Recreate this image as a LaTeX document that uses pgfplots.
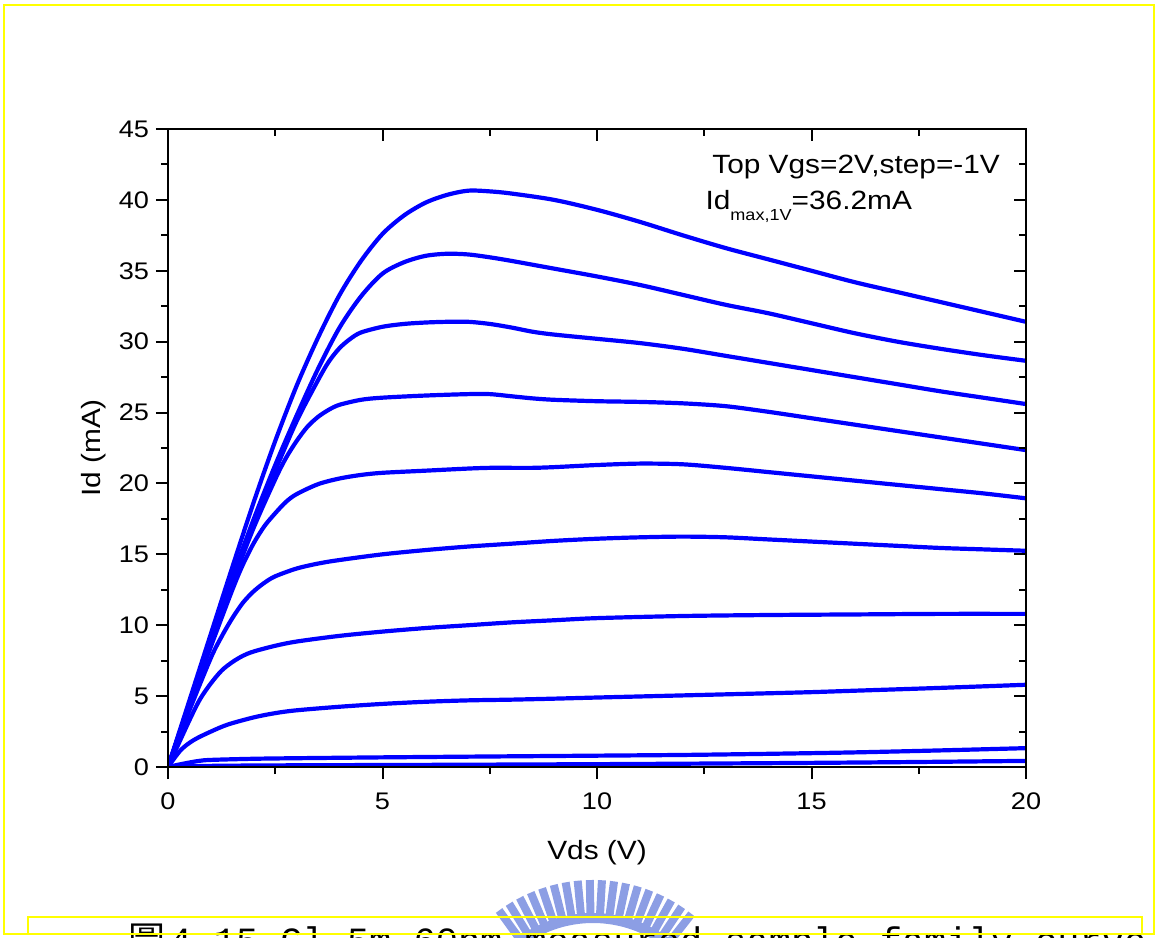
\documentclass[border=0pt]{standalone}
\usepackage{fontspec}
\setmainfont{Liberation Sans}[FakeStretch=1.13]
\newfontfamily\cjk{Noto Sans CJK TC}
\newfontfamily\capmono{Liberation Mono}
\usepackage{pgfplots}
\pgfplotsset{compat=1.18}
\definecolor{frameyellow}{RGB}{255,255,0}
\definecolor{curveblue}{RGB}{0,0,255}
\definecolor{crest}{RGB}{140,158,228}

\pgfplotsset{
  devframe/.style={
    scale only axis, width=429pt, height=319pt,
    at={(84pt,85pt)}, anchor=south west,
    xmin=0, xmax=20, ymin=0, ymax=45,
    xtick={0,5,...,20}, ytick={0,5,...,45},
    minor x tick num=1, minor y tick num=1,
    major tick length=6pt, minor tick length=3.5pt,
    every tick/.style={black, line width=1pt},
    axis line style={black, line width=1.1pt},
    tick label style={font=\fontsize{12}{12}\selectfont},
    /pgf/number format/assume math mode=true,
  },
  iv/.style={curveblue, solid, line width=2.1pt, mark=none, smooth, tension=0.5},
}

\begin{document}
\begin{tikzpicture}
\useasboundingbox (0,0) rectangle (577.5pt,468.5pt);
\begin{scope}
\clip (0,0) rectangle (577.5pt,468.5pt);

% crest watermark behind the caption
\begin{scope}[shift={(296.5pt,-51.5pt)}]
  \draw[crest, line width=5pt] (52:61pt) arc (52:126:61pt);
  \foreach \a in {52,56.35,...,126.5}
    \draw[crest, line width=4pt] (\a:63pt) -- (\a:80pt);
  \draw[crest, opacity=0.55, line width=7pt] (55:47pt) arc (55:123:47pt);
\end{scope}

% caption line (cut by the page edge)
\node[anchor=base west, inner sep=0] at (64pt,-8pt)
  {\fontsize{18.5}{18.5}\selectfont{\cjk 圖}\hspace{2pt}\capmono 4.15 Gl.5m 60nm measured sample family curve};

% page frames
\draw[frameyellow, line width=1.3pt] (2pt,1.5pt) rectangle (577pt,466pt);
\draw[frameyellow, line width=0.9pt] (13.85pt,1.5pt) rectangle (570.85pt,10.15pt);
\end{scope}

\begin{axis}[devframe,
  xtick pos=left, ytick pos=left, tick align=outside,
  xticklabel style={yshift=-3.5pt},
  xlabel={Vds (V)}, ylabel={Id (mA)},
  label style={font=\fontsize{13.2}{13.2}\selectfont},
  xlabel style={at={(axis description cs:0.5,0)}, anchor=base, yshift=-46pt},
  ylabel style={at={(axis description cs:-0.0781,0.5)}, anchor=base},
]
% Vgs = 2 V
\addplot[iv] coordinates {(0,0)(0.5,4.7)(1,9.4)(1.5,14.1)(2,18.7)(2.5,23.0)(3,26.9)(3.5,30.3)(4,33.3)(4.5,35.7)(5,37.6)(5.5,38.9)(6,39.8)(6.5,40.35)(7,40.65)(7.5,40.6)(8,40.45)(9,40.0)(10,39.3)(11,38.45)(12,37.5)(13,36.6)(14,35.8)(15,35.0)(16,34.2)(17,33.5)(18,32.8)(19,32.1)(20,31.4)};
% Vgs = 1 V
\addplot[iv] coordinates {(0,0)(0.5,4.5)(1,9.0)(1.5,13.4)(2,17.5)(2.5,21.3)(3,24.8)(3.5,28.1)(4,31.0)(4.5,33.2)(5,34.8)(5.5,35.6)(6,36.05)(6.5,36.2)(7,36.15)(7.5,35.95)(8,35.7)(9,35.15)(10,34.6)(11,34.0)(12,33.3)(13,32.6)(14,32.0)(15,31.3)(16,30.6)(17,30.0)(18,29.5)(19,29.05)(20,28.65)};
% Vgs = 0 V
\addplot[iv] coordinates {(0,0)(0.5,4.5)(1,8.9)(1.5,13.2)(2,17.2)(2.5,20.9)(3,24.4)(3.5,27.3)(3.75,28.6)(4,29.55)(4.25,30.2)(4.5,30.65)(5,31.05)(5.5,31.25)(6,31.35)(6.5,31.4)(7,31.4)(7.5,31.25)(8,31.0)(8.5,30.7)(9,30.5)(10,30.2)(11,29.9)(12,29.5)(13,29.0)(14,28.5)(15,28.0)(16,27.5)(17,27.0)(18,26.5)(19,26.05)(20,25.6)};
% Vgs = -1 V
\addplot[iv] coordinates {(0,0)(0.5,4.4)(1,8.8)(1.5,13.0)(2,16.9)(2.5,20.3)(2.75,21.8)(3,23.0)(3.25,24.0)(3.5,24.7)(3.75,25.2)(4,25.55)(4.5,25.9)(5,26.05)(6,26.2)(7,26.3)(7.5,26.3)(8,26.15)(8.5,26.0)(9,25.9)(10,25.8)(11,25.75)(12,25.65)(13,25.45)(14,25.05)(15,24.6)(16,24.15)(17,23.7)(18,23.25)(19,22.8)(20,22.35)};
% Vgs = -2 V
\addplot[iv] coordinates {(0,0)(0.5,4.3)(1,8.5)(1.5,12.5)(1.75,14.3)(2,15.8)(2.25,17.0)(2.5,17.9)(2.75,18.7)(3,19.25)(3.5,19.95)(4,20.35)(4.5,20.6)(5,20.75)(6,20.9)(7,21.05)(7.5,21.1)(8,21.1)(8.5,21.1)(9,21.15)(10,21.3)(11,21.4)(12,21.35)(13,21.1)(14,20.8)(15,20.5)(16,20.2)(17,19.9)(18,19.6)(19,19.3)(20,18.95)};
% Vgs = -3 V
\addplot[iv] coordinates {(0,0)(0.5,4.0)(1,7.7)(1.25,9.2)(1.5,10.5)(1.75,11.6)(2,12.4)(2.25,13.0)(2.5,13.45)(3,14.0)(3.5,14.35)(4,14.6)(5,15.0)(6,15.3)(7,15.55)(8,15.75)(9,15.95)(10,16.1)(11,16.2)(12,16.25)(13,16.2)(14,16.05)(15,15.9)(16,15.75)(17,15.6)(18,15.45)(19,15.35)(20,15.25)};
% Vgs = -4 V
\addplot[iv] coordinates {(0,0)(0.5,3.3)(0.75,4.8)(1,5.9)(1.25,6.8)(1.5,7.4)(1.75,7.85)(2,8.15)(2.5,8.55)(3,8.85)(4,9.25)(5,9.55)(6,9.8)(7,10.0)(8,10.2)(9,10.35)(10,10.5)(12,10.65)(14,10.72)(16,10.76)(18,10.8)(20,10.8)};
% Vgs = -5 V
\addplot[iv] coordinates {(0,0)(0.3,1.2)(0.6,1.9)(1,2.5)(1.4,3.0)(2,3.5)(2.5,3.8)(3,4.0)(4,4.25)(5,4.45)(6,4.6)(7,4.7)(8,4.75)(9,4.82)(10,4.9)(12,5.05)(14,5.2)(15,5.28)(16,5.38)(18,5.58)(20,5.8)};
% Vgs = -6 V
\addplot[iv] coordinates {(0,0)(0.3,0.2)(0.7,0.42)(1,0.5)(2,0.58)(3,0.62)(5,0.68)(7,0.73)(10,0.8)(12,0.85)(14,0.93)(16,1.03)(18,1.17)(20,1.33)};
% Vgs = -7 V
\addplot[iv] coordinates {(0,0)(1,0.08)(3,0.12)(6,0.15)(10,0.2)(14,0.27)(17,0.34)(20,0.43)};

\node[anchor=base west, inner sep=0, font=\fontsize{13.2}{13.2}\selectfont]
  at (axis cs:12.68,41.89) {Top Vgs=2V,step=-1V};
\node[anchor=base west, inner sep=0, font=\fontsize{13.2}{13.2}\selectfont]
  at (axis cs:12.52,39.35) {Id\raisebox{-5.5pt}{\fontsize{8}{8}\selectfont max,1V}=36.2mA};
\end{axis}

% mirrored ticks on the top and right edges point into the frame
\begin{axis}[devframe,
  xtick pos=right, ytick pos=right, tick align=inside,
  xticklabels={}, yticklabels={},
]
\end{axis}
\end{tikzpicture}
\end{document}
